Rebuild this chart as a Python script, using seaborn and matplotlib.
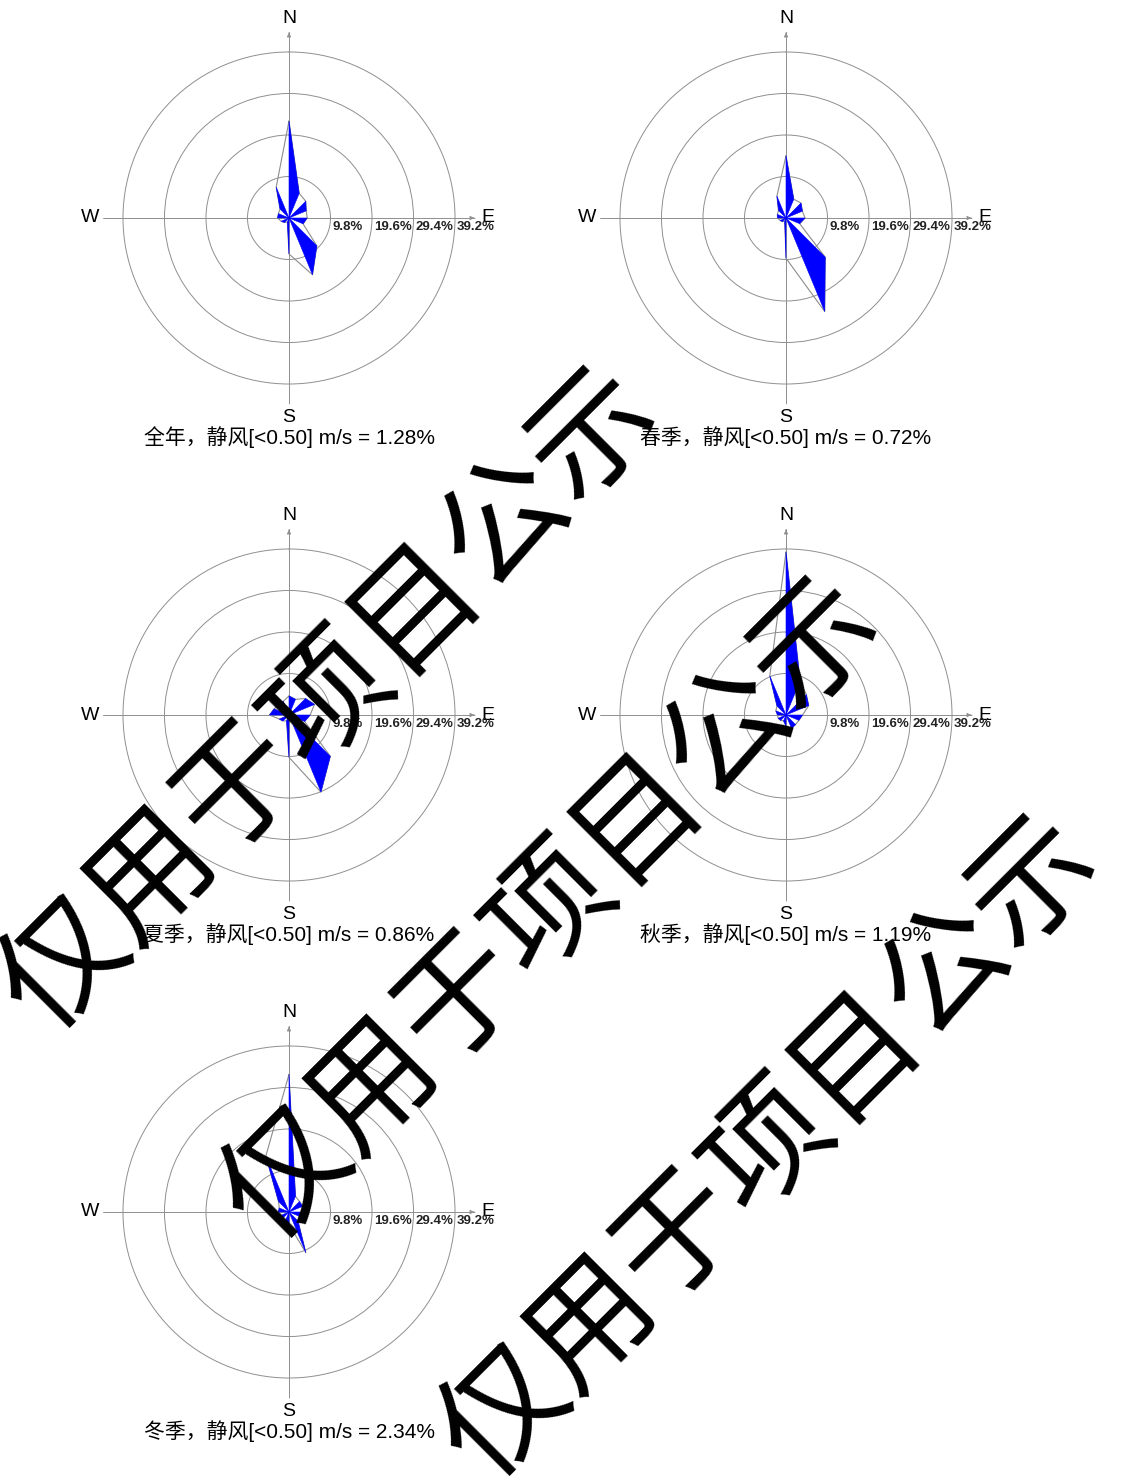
import numpy as np
import matplotlib
matplotlib.use('Agg')
import matplotlib.pyplot as plt
import seaborn as sns
import pandas as pd

# ---------------- data ----------------
directions = ['N', 'NNE', 'NE', 'ENE', 'E', 'ESE', 'SE', 'SSE',
              'S', 'SSW', 'SW', 'WSW', 'W', 'WNW', 'NW', 'NNW']
annual = [22.9, 6.3, 5.6, 4.4, 4.3, 3.6, 9.3, 14.5, 8.5, 1.0, 1.5, 2.0, 2.7, 2.7, 3.0, 7.9]
spring = [14.7, 4.8, 5.0, 4.2, 4.5, 3.5, 13.1, 23.9, 9.5, 0.8, 1.2, 1.5, 2.0, 2.2, 2.5, 5.6]
summer = [4.5, 4.0, 5.5, 6.5, 5.0, 4.0, 13.8, 19.7, 10.0, 1.5, 2.0, 2.5, 4.6, 3.8, 3.3, 3.5]
autumn = [38.5, 8.7, 6.8, 5.8, 3.9, 3.3, 3.2, 3.4, 2.6, 1.5, 1.8, 2.0, 2.0, 2.6, 3.0, 10.0]
winter = [32.5, 4.0, 3.5, 3.5, 3.0, 2.5, 3.0, 10.4, 3.0, 2.0, 2.0, 2.0, 2.5, 2.5, 3.5, 14.3]
season_names = ['全年', '春季', '夏季', '秋季', '冬季']
calm_pct = [1.28, 0.72, 0.86, 1.19, 2.34]
ring_values = [9.8, 19.6, 29.4, 39.2]
ring_labels = ['9.8%', '19.6%', '29.4%', '39.2%']
cardinal_labels = ['N', 'E', 'S', 'W']
watermark_text = '仅用于项目公示'

series = [annual, spring, summer, autumn, winter]

# ---------------- style ----------------
sns.set_theme(style='white')
plt.rcParams['font.family'] = ['Liberation Sans', 'Noto Sans CJK SC', 'DejaVu Sans']
plt.rcParams['axes.unicode_minus'] = False

W, H = 1129, 1483
fig = plt.figure(figsize=(W / 100, H / 100), dpi=100)
fig.patch.set_facecolor('white')

centers = [(289, 218), (786, 218), (289, 715), (786, 715), (289, 1212)]
px_per_pct = 4.235
rmax = 44.0
R = rmax * px_per_pct
grid_col = '#8f8f8f'

theta = np.deg2rad(np.arange(16) * 22.5)

for vals, name, calm, (cx, cy) in zip(series, season_names, calm_pct, centers):
    ax = fig.add_axes([(cx - R) / W, 1 - (cy + R) / H, 2 * R / W, 2 * R / H],
                      projection='polar')
    ax.set_theta_zero_location('N')
    ax.set_theta_direction(-1)
    ax.set_facecolor('none')

    v = np.asarray(vals, dtype=float)
    # alternating filled triangles (pinwheel)
    for i in range(0, 16, 2):
        j = (i + 1) % 16
        ax.fill([0, theta[i], theta[j]], [0, v[i], v[j]],
                color='#0000FF', ec='#0000FF', lw=0.4, zorder=3)
    # envelope line
    df = pd.DataFrame({'theta': np.append(theta, theta[0]),
                       'r': np.append(v, v[0])})
    sns.lineplot(data=df, x='theta', y='r', sort=False, estimator=None,
                 ax=ax, color='#8c8c8c', lw=0.8, zorder=2)
    ax.set_xlabel('')
    ax.set_ylabel('')

    ax.set_ylim(0, rmax)
    ax.set_yticks(ring_values)
    ax.set_yticklabels([])
    ax.set_xticks(np.deg2rad([0, 90, 180, 270]))
    ax.set_xticklabels([])
    ax.grid(True, color=grid_col, lw=0.7)
    ax.spines['polar'].set_visible(False)
    ax.tick_params(length=0, pad=0)

    # small arrow heads at N and E ends
    for ang in (0, np.pi / 2):
        ax.annotate('', xy=(ang, rmax + 0.4), xytext=(ang, rmax - 1.0),
                    arrowprops=dict(arrowstyle='-|>', color=grid_col, lw=0.6,
                                    mutation_scale=6),
                    annotation_clip=False)

    # cardinal labels
    for ang, lab in zip(np.deg2rad([0, 90, 180, 270]), cardinal_labels):
        ax.text(ang, 47.0, lab, ha='center', va='center', fontsize=14,
                color='black', clip_on=False)

    # ring labels
    for rv, lab in zip(ring_values, ring_labels):
        ax.annotate(lab, xy=(np.pi / 2, rv), xytext=(2, -9),
                    textcoords='offset pixels', ha='left', va='center',
                    fontsize=9.5, fontweight='bold', color='#222222',
                    annotation_clip=False)

    fig.text(cx / W, 1 - (cy + 219) / H,
             f'{name}，静风[<0.50] m/s = {calm:.2f}%',
             ha='center', va='center', fontsize=15, color='black')

# watermark
for (wx, wy) in [(330, 700), (552, 910), (770, 1148)]:
    fig.text(wx / W, 1 - wy / H, watermark_text, rotation=45,
             rotation_mode='anchor', ha='center', va='center',
             fontsize=90, fontweight='medium', color='black',
             family=['Noto Sans CJK SC'], zorder=10)

fig.savefig('out.png', dpi=100, facecolor='white')
